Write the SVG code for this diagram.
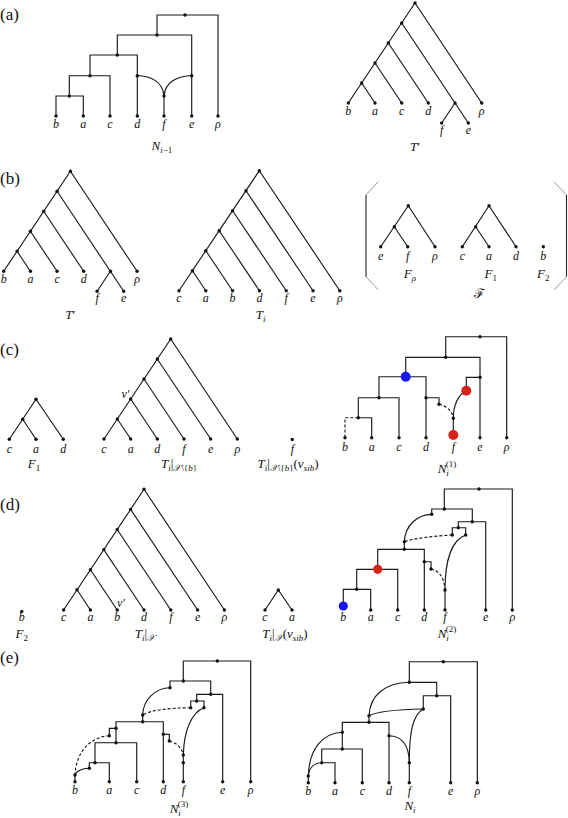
<svg xmlns="http://www.w3.org/2000/svg" width="568" height="818" viewBox="0 0 568 818">
<style>
.e{stroke:#1a1a1a;stroke-width:1.15;fill:none;stroke-linejoin:miter}
.ds{stroke-dasharray:3,2}
.n circle{fill:#111}
.br{stroke:#999;stroke-width:1;fill:none}
.bv{stroke:#222;stroke-width:1.1;fill:none}
text{font-family:"Liberation Serif","DejaVu Serif",serif}
.l{font-style:italic;font-size:12px;text-anchor:middle;fill:#111}
.m{font-size:13px;text-anchor:middle;fill:#111}
.sec{font-size:17px;fill:#111}
.it{font-style:italic}
.red{fill:#d8231a}
.blue{fill:#1616ee}
</style>
<rect width="568" height="818" fill="#fff"/>

<!-- section labels -->
<text class="sec" x="0" y="20">(a)</text>
<text class="sec" x="0" y="184">(b)</text>
<text class="sec" x="0" y="355">(c)</text>
<text class="sec" x="0" y="510">(d)</text>
<text class="sec" x="0" y="663">(e)</text>

<!-- (a) N_{i-1} -->
<g id="a-Nim1">
 <g class="e">
  <path d="M157,35V15H218V116"/>
  <path d="M117.3,55V35H191.7V116"/>
  <path d="M90,75.7V55H137.3V116"/>
  <path d="M69.3,96V75.7H110V116"/>
  <path d="M56,116V96H83.3V116"/>
  <path d="M137.3,75.7C151,75.7 163,82 164,96"/>
  <path d="M191.7,75.7C178,75.7 165,82 164,96"/>
  <path d="M164,96V116"/>
 </g>
 <g class="n">
  <circle cx="185" cy="15" r="1.7"/><circle cx="157" cy="35" r="1.7"/><circle cx="117.3" cy="55" r="1.7"/><circle cx="90" cy="75.7" r="1.7"/><circle cx="69.3" cy="96" r="1.7"/><circle cx="137.3" cy="75.7" r="1.7"/><circle cx="191.7" cy="75.7" r="1.7"/><circle cx="164" cy="96" r="1.7"/>
  <circle cx="56" cy="116" r="1.7"/><circle cx="83.3" cy="116" r="1.7"/><circle cx="110" cy="116" r="1.7"/><circle cx="137.3" cy="116" r="1.7"/><circle cx="164" cy="116" r="1.7"/><circle cx="191.7" cy="116" r="1.7"/><circle cx="218" cy="116" r="1.7"/>
 </g>
 <g>
  <text class="l" x="56" y="127.5">b</text><text class="l" x="83.3" y="127.5">a</text><text class="l" x="110" y="127.5">c</text><text class="l" x="137.3" y="127.5">d</text><text class="l" x="164" y="127.5">f</text><text class="l" x="191.7" y="127.5">e</text><text class="l" x="218" y="127.5">ρ</text>
  <text class="m" x="162" y="150"><tspan class="it">N</tspan><tspan font-size="9" dy="3"><tspan class="it">i</tspan>−1</tspan></text>
 </g>
</g>

<!-- (a) T' -->
<g id="a-Tprime">
 <g class="e">
  <path d="M348.3,103L415,3L481.7,103"/>
  <path d="M361.7,83L375,103"/>
  <path d="M375,63L401.7,103"/>
  <path d="M388.3,43L428.3,103"/>
  <path d="M401.7,23L455,103L468.3,123"/>
  <path d="M455,103L441.7,123"/>
 </g>
 <g class="n">
  <circle cx="415" cy="3" r="1.7"/><circle cx="401.7" cy="23" r="1.7"/><circle cx="388.3" cy="43" r="1.7"/><circle cx="375" cy="63" r="1.7"/><circle cx="361.7" cy="83" r="1.7"/><circle cx="455" cy="103" r="1.7"/>
  <circle cx="348.3" cy="103" r="1.7"/><circle cx="375" cy="103" r="1.7"/><circle cx="401.7" cy="103" r="1.7"/><circle cx="428.3" cy="103" r="1.7"/><circle cx="481.7" cy="103" r="1.7"/><circle cx="441.7" cy="123" r="1.7"/><circle cx="468.3" cy="123" r="1.7"/>
 </g>
 <g>
  <text class="l" x="348.3" y="115">b</text><text class="l" x="375" y="115">a</text><text class="l" x="401.7" y="115">c</text><text class="l" x="428.3" y="115">d</text><text class="l" x="481.7" y="115">ρ</text><text class="l" x="441.7" y="134">f</text><text class="l" x="468.3" y="134">e</text>
  <text class="m" x="415" y="151"><tspan class="it">T</tspan>′</text>
 </g>
</g>

<!-- (b) T' -->
<g id="b-Tprime" transform="translate(-344.6,168.3)">
 <g class="e">
  <path d="M348.3,103L415,3L481.7,103"/>
  <path d="M361.7,83L375,103"/>
  <path d="M375,63L401.7,103"/>
  <path d="M388.3,43L428.3,103"/>
  <path d="M401.7,23L455,103L468.3,123"/>
  <path d="M455,103L441.7,123"/>
 </g>
 <g class="n">
  <circle cx="415" cy="3" r="1.7"/><circle cx="401.7" cy="23" r="1.7"/><circle cx="388.3" cy="43" r="1.7"/><circle cx="375" cy="63" r="1.7"/><circle cx="361.7" cy="83" r="1.7"/><circle cx="455" cy="103" r="1.7"/>
  <circle cx="348.3" cy="103" r="1.7"/><circle cx="375" cy="103" r="1.7"/><circle cx="401.7" cy="103" r="1.7"/><circle cx="428.3" cy="103" r="1.7"/><circle cx="481.7" cy="103" r="1.7"/><circle cx="441.7" cy="123" r="1.7"/><circle cx="468.3" cy="123" r="1.7"/>
 </g>
 <g>
  <text class="l" x="348.3" y="115">b</text><text class="l" x="375" y="115">a</text><text class="l" x="401.7" y="115">c</text><text class="l" x="428.3" y="115">d</text><text class="l" x="481.7" y="115">ρ</text><text class="l" x="441.7" y="134">f</text><text class="l" x="468.3" y="134">e</text>
  <text class="m" x="415" y="151"><tspan class="it">T</tspan>′</text>
 </g>
</g>

<!-- (b) T_i -->
<g id="b-Ti">
 <g class="e">
  <path d="M179,290.7L259.3,170.7L339.8,290.7"/>
  <path d="M246,190.7L313,290.7"/>
  <path d="M232.6,210.7L286.2,290.7"/>
  <path d="M219.2,230.7L259.4,290.7"/>
  <path d="M205.8,250.7L232.6,290.7"/>
  <path d="M192.4,270.7L205.8,290.7"/>
 </g>
 <g class="n">
  <circle cx="259.3" cy="170.7" r="1.7"/><circle cx="246" cy="190.7" r="1.7"/><circle cx="232.6" cy="210.7" r="1.7"/><circle cx="219.2" cy="230.7" r="1.7"/><circle cx="205.8" cy="250.7" r="1.7"/><circle cx="192.4" cy="270.7" r="1.7"/>
  <circle cx="179" cy="290.7" r="1.7"/><circle cx="205.8" cy="290.7" r="1.7"/><circle cx="232.6" cy="290.7" r="1.7"/><circle cx="259.4" cy="290.7" r="1.7"/><circle cx="286.2" cy="290.7" r="1.7"/><circle cx="313" cy="290.7" r="1.7"/><circle cx="339.8" cy="290.7" r="1.7"/>
 </g>
 <g>
  <text class="l" x="179" y="302">c</text><text class="l" x="205.8" y="302">a</text><text class="l" x="232.6" y="302">b</text><text class="l" x="259.4" y="302">d</text><text class="l" x="286.2" y="302">f</text><text class="l" x="313" y="302">e</text><text class="l" x="339.8" y="302">ρ</text>
  <text class="m" x="260.7" y="319"><tspan class="it">T</tspan><tspan font-size="9" dy="3" class="it">i</tspan></text>
 </g>
</g>

<!-- (b) forest F -->
<g id="b-F">
 <g>
  <path class="br" d="M378.3,181.7L366,195M366,276.7L378.3,290"/>
  <path class="bv" d="M366,195V276.7"/>
  <path class="br" d="M554,181.7L566.5,195M566.5,276.7L554,290"/>
  <path class="bv" d="M566.5,195V276.7"/>
 </g>
 <g id="b-Frho">
  <path class="e" d="M380.7,246.7L408.3,205.7L435,246.7M394.3,226.7L407.7,246.7"/>
  <g class="n"><circle cx="408.3" cy="205.7" r="1.7"/><circle cx="394.3" cy="226.7" r="1.7"/><circle cx="380.7" cy="246.7" r="1.7"/><circle cx="407.7" cy="246.7" r="1.7"/><circle cx="435" cy="246.7" r="1.7"/></g>
  <text class="l" x="380.7" y="260">e</text><text class="l" x="407.7" y="260">f</text><text class="l" x="435" y="260">ρ</text>
  <text class="m" x="410" y="278"><tspan class="it">F</tspan><tspan font-size="9" dy="3" class="it">ρ</tspan></text>
 </g>
 <g id="b-F1">
  <path class="e" d="M462.3,246.7L489,205.7L516,246.7M475.7,226.7L489,246.7"/>
  <g class="n"><circle cx="489" cy="205.7" r="1.7"/><circle cx="475.7" cy="226.7" r="1.7"/><circle cx="462.3" cy="246.7" r="1.7"/><circle cx="489" cy="246.7" r="1.7"/><circle cx="516" cy="246.7" r="1.7"/></g>
  <text class="l" x="462.3" y="260">c</text><text class="l" x="489" y="260">a</text><text class="l" x="516" y="260">d</text>
  <text class="m" x="490.7" y="278"><tspan class="it">F</tspan><tspan font-size="9" dy="3">1</tspan></text>
 </g>
 <g id="b-F2">
  <g class="n"><circle cx="543.3" cy="246.7" r="1.7"/></g>
  <text class="l" x="543.3" y="260">b</text>
  <text class="m" x="543.3" y="278"><tspan class="it">F</tspan><tspan font-size="9" dy="3">2</tspan></text>
 </g>
 <text class="m" x="479.3" y="298">ℱ</text>
</g>

<!-- (c) F_1 -->
<g id="c-F1">
 <path class="e" d="M9.3,439.3L36,399.3L63.3,439.3M22.7,419.3L36,439.3"/>
 <g class="n"><circle cx="36" cy="399.3" r="1.7"/><circle cx="22.7" cy="419.3" r="1.7"/><circle cx="9.3" cy="439.3" r="1.7"/><circle cx="36" cy="439.3" r="1.7"/><circle cx="63.3" cy="439.3" r="1.7"/></g>
 <text class="l" x="9.3" y="453">c</text><text class="l" x="36" y="453">a</text><text class="l" x="63.3" y="453">d</text>
 <text class="m" x="34" y="468"><tspan class="it">F</tspan><tspan font-size="9" dy="3">1</tspan></text>
</g>

<!-- (c) T_i | X\{b} -->
<g id="c-Ti">
 <g class="e">
  <path d="M104,439L170.7,339L237.3,439"/>
  <path d="M157.3,359L210.7,439"/>
  <path d="M144,379L184,439"/>
  <path d="M130.7,399L157.3,439"/>
  <path d="M117.3,419L130.7,439"/>
 </g>
 <g class="n">
  <circle cx="170.7" cy="339" r="1.7"/><circle cx="157.3" cy="359" r="1.7"/><circle cx="144" cy="379" r="1.7"/><circle cx="130.7" cy="399" r="1.7"/><circle cx="117.3" cy="419" r="1.7"/>
  <circle cx="104" cy="439" r="1.7"/><circle cx="130.7" cy="439" r="1.7"/><circle cx="157.3" cy="439" r="1.7"/><circle cx="184" cy="439" r="1.7"/><circle cx="210.7" cy="439" r="1.7"/><circle cx="237.3" cy="439" r="1.7"/>
 </g>
 <text class="l" x="125.5" y="397.5">v′</text>
 <text class="l" x="104" y="453">c</text><text class="l" x="130.7" y="453">a</text><text class="l" x="157.3" y="453">d</text><text class="l" x="184" y="453">f</text><text class="l" x="210.7" y="453">e</text><text class="l" x="237.3" y="453">ρ</text>
 <text class="m" x="179" y="468"><tspan class="it">T</tspan><tspan font-size="9" dy="3" class="it">i</tspan><tspan dy="-3">|</tspan><tspan font-size="9" dy="3"><tspan class="it">𝒳</tspan>\{<tspan class="it">b</tspan>}</tspan></text>
</g>

<!-- (c) T_i|X\{b}(v_sib) -->
<g id="c-Tsib">
 <g class="n"><circle cx="292.3" cy="439.5" r="1.7"/></g>
 <text class="l" x="292.3" y="453">f</text>
 <text class="m" x="288" y="468"><tspan class="it">T</tspan><tspan font-size="9" dy="3" class="it">i</tspan><tspan dy="-3">|</tspan><tspan font-size="9" dy="3"><tspan class="it">𝒳</tspan>\{<tspan class="it">b</tspan>}</tspan><tspan dy="-3">(</tspan><tspan class="it">v</tspan><tspan font-size="9" dy="3" class="it">sib</tspan><tspan dy="-3">)</tspan></text>
</g>

<!-- (c) N_i^(1) -->
<g id="c-N1">
 <g class="e">
  <path d="M445.7,357.3V336.7H506.7V437.7"/>
  <path d="M405.7,376.7V357.3H480V437.7"/>
  <path d="M480,377.3H466.3V390.7"/>
  <path d="M466.3,390.7C459,394 453.3,404 453.3,418.3"/>
  <path d="M379,397.7V376.7H426V437.7"/>
  <path d="M426,397.7H439V404.3"/>
  <path class="ds" d="M439,404.3C447,406 452,411 453.3,418.3"/>
  <path d="M358.3,417.7V397.7H399V437.7"/>
  <path d="M358.3,417.7H371.7V437.7"/>
  <path class="ds" d="M358.3,417.7H345V437.7"/>
  <path d="M453.3,418.3V437.7"/>
 </g>
 <g class="n">
  <circle cx="480" cy="336.7" r="1.7"/><circle cx="445.7" cy="357.3" r="1.7"/><circle cx="480" cy="377.3" r="1.7"/><circle cx="426" cy="397.7" r="1.7"/><circle cx="439" cy="404.3" r="1.7"/><circle cx="379" cy="397.7" r="1.7"/><circle cx="358.3" cy="417.7" r="1.7"/><circle cx="453.3" cy="418.3" r="1.7"/>
  <circle cx="345" cy="437.7" r="1.7"/><circle cx="371.7" cy="437.7" r="1.7"/><circle cx="399" cy="437.7" r="1.7"/><circle cx="426" cy="437.7" r="1.7"/><circle cx="480" cy="437.7" r="1.7"/><circle cx="506.7" cy="437.7" r="1.7"/>
 </g>
 <circle class="blue" cx="405.7" cy="376.7" r="5"/>
 <circle class="red" cx="466.3" cy="390.7" r="5"/>
 <circle class="red" cx="453.3" cy="435" r="5"/>
 <text class="l" x="345" y="451">b</text><text class="l" x="371.7" y="451">a</text><text class="l" x="399" y="451">c</text><text class="l" x="426" y="451">d</text><text class="l" x="453.3" y="451">f</text><text class="l" x="480" y="451">e</text><text class="l" x="506.7" y="451">ρ</text>
 <text class="m" x="447" y="473"><tspan class="it">N</tspan><tspan font-size="9" dy="3" class="it">i</tspan><tspan font-size="9" dx="-3" dy="-9">(1)</tspan></text>
</g>

<!-- (d) F_2 -->
<g id="d-F2">
 <g class="n"><circle cx="21.7" cy="611.5" r="1.7"/></g>
 <text class="l" x="21.7" y="621">b</text>
 <text class="m" x="21.7" y="638"><tspan class="it">F</tspan><tspan font-size="9" dy="3">2</tspan></text>
</g>

<!-- (d) T_i|X -->
<g id="d-Ti">
 <g class="e">
  <path d="M63.6,610L144,489.3L224.4,610"/>
  <path d="M130.6,509.4L197.6,610"/>
  <path d="M117.2,529.5L170.8,610"/>
  <path d="M103.8,549.6L144,610"/>
  <path d="M90.4,569.7L117.2,610"/>
  <path d="M77,589.8L90.4,610"/>
 </g>
 <g class="n">
  <circle cx="144" cy="489.3" r="1.7"/><circle cx="130.6" cy="509.4" r="1.7"/><circle cx="117.2" cy="529.5" r="1.7"/><circle cx="103.8" cy="549.6" r="1.7"/><circle cx="90.4" cy="569.7" r="1.7"/><circle cx="77" cy="589.8" r="1.7"/>
  <circle cx="63.6" cy="610" r="1.7"/><circle cx="90.4" cy="610" r="1.7"/><circle cx="117.2" cy="610" r="1.7"/><circle cx="144" cy="610" r="1.7"/><circle cx="170.8" cy="610" r="1.7"/><circle cx="197.6" cy="610" r="1.7"/><circle cx="224.4" cy="610" r="1.7"/>
 </g>
 <text class="l" x="121" y="606.5">v′</text>
 <text class="l" x="63.6" y="621">c</text><text class="l" x="90.4" y="621">a</text><text class="l" x="117.2" y="621">b</text><text class="l" x="144" y="621">d</text><text class="l" x="170.8" y="621">f</text><text class="l" x="197.6" y="621">e</text><text class="l" x="224.4" y="621">ρ</text>
 <text class="m" x="145" y="638"><tspan class="it">T</tspan><tspan font-size="9" dy="3" class="it">i</tspan><tspan dy="-3">|</tspan><tspan font-size="9" dy="3" class="it">𝒳</tspan></text>
</g>

<!-- (d) T_i|X(v_sib) -->
<g id="d-Tsib">
 <path class="e" d="M265,610L278.3,590L292,610"/>
 <g class="n"><circle cx="278.3" cy="590" r="1.7"/><circle cx="265" cy="610" r="1.7"/><circle cx="292" cy="610" r="1.7"/></g>
 <text class="l" x="265" y="621">c</text><text class="l" x="292" y="621">a</text>
 <text class="m" x="285" y="638"><tspan class="it">T</tspan><tspan font-size="9" dy="3" class="it">i</tspan><tspan dy="-3">|</tspan><tspan font-size="9" dy="3" class="it">𝒳</tspan><tspan dy="-3">(</tspan><tspan class="it">v</tspan><tspan font-size="9" dy="3" class="it">sib</tspan><tspan dy="-3">)</tspan></text>
</g>

<!-- (d) N_i^(2) -->
<g id="d-N2">
 <g class="e">
  <path d="M444.3,509V489H512.3V610"/>
  <path d="M431.7,514.3V509H472.3V521.7"/>
  <path d="M431.7,514.3C418,514.3 405,525 404.3,541.7V549.3"/>
  <path d="M458.3,527.7V521.7H485.7V610"/>
  <path d="M452.3,535V527.7H465.7V535"/>
  <path class="ds" d="M452.3,535C435,536 415,538 404.3,541.7"/>
  <path d="M465.7,535C452,540 445,560 445,590V610"/>
  <path d="M377.7,569.3V549.3H424.3V610"/>
  <path d="M424.3,561.7H431V569"/>
  <path class="ds" d="M431,569C440,571 444,578 445,590"/>
  <path d="M356.7,589.3V569.3H397.7V610"/>
  <path d="M343.3,610V589.3H370.7V610"/>
 </g>
 <g class="n">
  <circle cx="479" cy="489" r="1.7"/><circle cx="444.3" cy="509" r="1.7"/><circle cx="431.7" cy="514.3" r="1.7"/><circle cx="472.3" cy="521.7" r="1.7"/><circle cx="458.3" cy="527.7" r="1.7"/><circle cx="452.3" cy="535" r="1.7"/><circle cx="465.7" cy="535" r="1.7"/><circle cx="404.3" cy="541.7" r="1.7"/><circle cx="404.3" cy="549.3" r="1.7"/><circle cx="424.3" cy="561.7" r="1.7"/><circle cx="431" cy="569" r="1.7"/><circle cx="445" cy="590" r="1.7"/><circle cx="356.7" cy="589.3" r="1.7"/>
  <circle cx="370.7" cy="610" r="1.7"/><circle cx="397.7" cy="610" r="1.7"/><circle cx="424.3" cy="610" r="1.7"/><circle cx="445" cy="610" r="1.7"/><circle cx="485.7" cy="610" r="1.7"/><circle cx="512.3" cy="610" r="1.7"/>
 </g>
 <circle class="red" cx="377.7" cy="569.3" r="4.6"/>
 <circle class="blue" cx="343.3" cy="606" r="4.6"/>
 <text class="l" x="343.3" y="621">b</text><text class="l" x="370.7" y="621">a</text><text class="l" x="397.7" y="621">c</text><text class="l" x="424.3" y="621">d</text><text class="l" x="445" y="621">f</text><text class="l" x="485.7" y="621">e</text><text class="l" x="512.3" y="621">ρ</text>
 <text class="m" x="447" y="638"><tspan class="it">N</tspan><tspan font-size="9" dy="3" class="it">i</tspan><tspan font-size="9" dx="-3" dy="-9">(2)</tspan></text>
</g>

<!-- (e) N_i^(3) -->
<g id="e-N3">
 <g class="e">
  <path d="M183.3,681V661H250.7V781.7"/>
  <path d="M170,687.7V681H210.7V694.3"/>
  <path d="M170,687.7C155,688 143,700 142.7,715V721.7"/>
  <path d="M196.7,701V694.3H222.7V781.7"/>
  <path d="M190.7,707.7V701H204V707.7"/>
  <path class="ds" d="M190.7,707.7C170,708 150,710 142.7,715"/>
  <path d="M204,707.7C192,712 184,730 183.3,755V781.7"/>
  <path d="M116,742.7V721.7H163.3V781.7"/>
  <path d="M163.3,734.3H169.3V741"/>
  <path class="ds" d="M169.3,741C177,743 182,748 183.3,755"/>
  <path d="M116,728.3H109.3V735.7"/>
  <path class="ds" d="M109.3,735.7C90,737 76,752 75,775"/>
  <path d="M95,762.7V742.7H136.7V781.7"/>
  <path d="M89.3,768.3V762.7H109.3V781.7"/>
  <path d="M89.3,768.3C82,768.5 76,771 75,775V781.7"/>
 </g>
 <g class="n">
  <circle cx="217.3" cy="661" r="1.7"/><circle cx="183.3" cy="681" r="1.7"/><circle cx="170" cy="687.7" r="1.7"/><circle cx="210.7" cy="694.3" r="1.7"/><circle cx="196.7" cy="701" r="1.7"/><circle cx="190.7" cy="707.7" r="1.7"/><circle cx="204" cy="707.7" r="1.7"/><circle cx="142.7" cy="715" r="1.7"/><circle cx="142.7" cy="721.7" r="1.7"/><circle cx="163.3" cy="734.3" r="1.7"/><circle cx="169.3" cy="741" r="1.7"/><circle cx="183.3" cy="755" r="1.7"/><circle cx="183.3" cy="762.7" r="1.7"/><circle cx="116" cy="728.3" r="1.7"/><circle cx="109.3" cy="735.7" r="1.7"/><circle cx="116" cy="742.7" r="1.7"/><circle cx="95" cy="762.7" r="1.7"/><circle cx="89.3" cy="768.3" r="1.7"/><circle cx="75" cy="775" r="1.7"/>
  <circle cx="75" cy="781.7" r="1.7"/><circle cx="109.3" cy="781.7" r="1.7"/><circle cx="136.7" cy="781.7" r="1.7"/><circle cx="163.3" cy="781.7" r="1.7"/><circle cx="183.3" cy="781.7" r="1.7"/><circle cx="222.7" cy="781.7" r="1.7"/><circle cx="250.7" cy="781.7" r="1.7"/>
 </g>
 <text class="l" x="75" y="794">b</text><text class="l" x="109.3" y="794">a</text><text class="l" x="136.7" y="794">c</text><text class="l" x="163.3" y="794">d</text><text class="l" x="183.3" y="794">f</text><text class="l" x="222.7" y="794">e</text><text class="l" x="250.7" y="794">ρ</text>
 <text class="m" x="179" y="813"><tspan class="it">N</tspan><tspan font-size="9" dy="3" class="it">i</tspan><tspan font-size="9" dx="-3" dy="-9">(3)</tspan></text>
</g>

<!-- (e) N_i -->
<g id="e-N">
 <g class="e">
  <path d="M409.3,682.3V661.7H477.3V782.7"/>
  <path d="M409.3,682.3H436.7V695.7"/>
  <path d="M409.3,682.3C385,683 370,695 369,715.7V722.3"/>
  <path d="M423.3,709V695.7H450.7V782.7"/>
  <path d="M423.3,709C400,709.5 378,711 369,715.7"/>
  <path d="M423.3,709C412,715 409.3,735 409.3,762.7V782.7"/>
  <path d="M342.3,749V722.3H389V782.7"/>
  <path d="M389,735.7C402,736 409,745 409.3,762.7"/>
  <path d="M342.3,732.3C322,733 309,750 308.3,776V782.7"/>
  <path d="M321.7,762.7V749H362.3V782.7"/>
  <path d="M321.7,762.7H335V782.7"/>
  <path d="M321.7,762.7C314,763 309,768 308.3,776"/>
 </g>
 <g class="n">
  <circle cx="443.3" cy="661.7" r="1.7"/><circle cx="409.3" cy="682.3" r="1.7"/><circle cx="436.7" cy="695.7" r="1.7"/><circle cx="423.3" cy="709" r="1.7"/><circle cx="369" cy="715.7" r="1.7"/><circle cx="369" cy="722.3" r="1.7"/><circle cx="389" cy="735.7" r="1.7"/><circle cx="342.3" cy="732.3" r="1.7"/><circle cx="342.3" cy="749" r="1.7"/><circle cx="321.7" cy="762.7" r="1.7"/><circle cx="308.3" cy="776" r="1.7"/><circle cx="409.3" cy="762.7" r="1.7"/>
  <circle cx="308.3" cy="782.7" r="1.7"/><circle cx="335" cy="782.7" r="1.7"/><circle cx="362.3" cy="782.7" r="1.7"/><circle cx="389" cy="782.7" r="1.7"/><circle cx="409.3" cy="782.7" r="1.7"/><circle cx="450.7" cy="782.7" r="1.7"/><circle cx="477.3" cy="782.7" r="1.7"/>
 </g>
 <text class="l" x="308.3" y="795">b</text><text class="l" x="335" y="795">a</text><text class="l" x="362.3" y="795">c</text><text class="l" x="389" y="795">d</text><text class="l" x="409.3" y="795">f</text><text class="l" x="450.7" y="795">e</text><text class="l" x="477.3" y="795">ρ</text>
 <text class="m" x="410" y="810"><tspan class="it">N</tspan><tspan font-size="9" dy="3" class="it">i</tspan></text>
</g>
</svg>
